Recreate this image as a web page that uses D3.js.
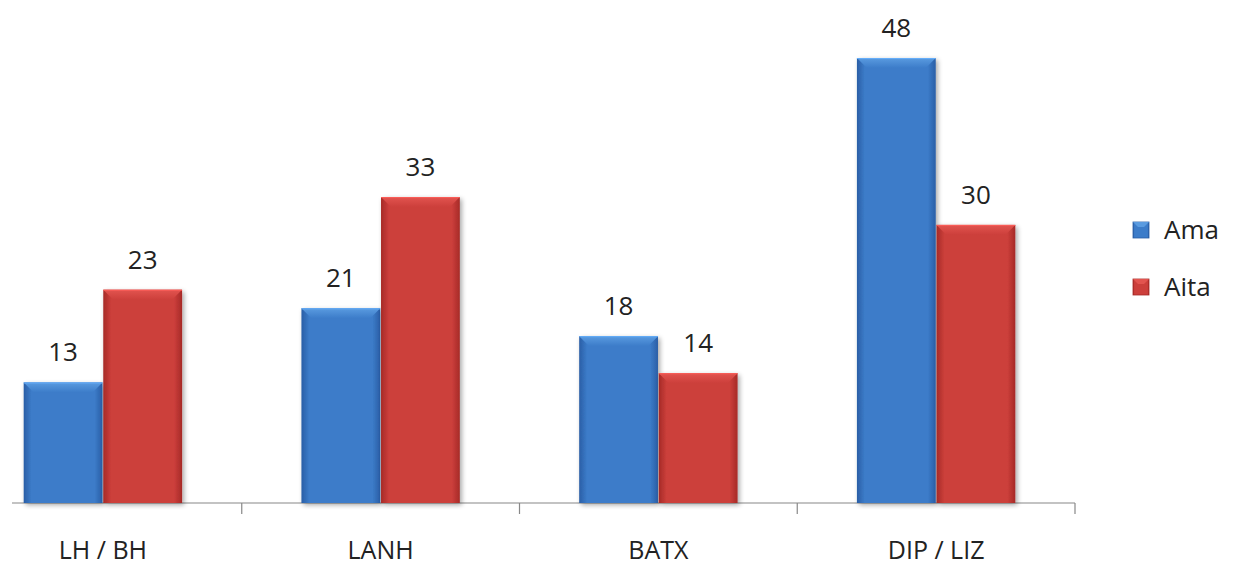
<!DOCTYPE html>
<html><head><meta charset="utf-8">
<script src="https://cdn.jsdelivr.net/npm/d3@7"></script>
<style>body{margin:0;background:#fff}svg{display:block}</style>
</head><body>
<script>
const categories = ["LH / BH", "LANH", "BATX", "DIP / LIZ"];
const seriesNames = ["Ama", "Aita"];
const amaValues = [13, 21, 18, 48];
const aitaValues = [23, 33, 14, 30];
const seriesColors = [["#2a5e a6".replace(" ", ""), "#5a9be0", "#3c7cc9"], ["#a62a27", "#e2544f", "#cc3f3b"]];

const W = 1234, H = 567;
const svg = d3.select("body").append("svg").attr("width", W).attr("height", H);
const font = "'Open Sans', 'DejaVu Sans', sans-serif";

const x0 = d3.scaleBand().domain(categories).range([-36, 1075]);
const x1 = d3.scaleBand().domain(seriesNames).range([0, x0.bandwidth()]).paddingOuter(0.75).paddingInner(0.01);
const y = d3.scaleLinear().domain([0, 48]).range([503, 58]);

const defs = svg.append("defs");
seriesColors.forEach((c, i) => {
  const g = defs.append("linearGradient").attr("id", "g" + i).attr("x1", 0).attr("x2", 1).attr("y1", 0).attr("y2", 0);
  g.append("stop").attr("offset", 0).attr("stop-color", c[0]);
  g.append("stop").attr("offset", 0.1).attr("stop-color", c[2]);
  g.append("stop").attr("offset", 0.9).attr("stop-color", c[2]);
  g.append("stop").attr("offset", 1).attr("stop-color", c[0]);
  const t = defs.append("linearGradient").attr("id", "t" + i).attr("x1", 0).attr("x2", 0).attr("y1", 0).attr("y2", 1);
  t.append("stop").attr("offset", 0).attr("stop-color", c[1]);
  t.append("stop").attr("offset", 1).attr("stop-color", c[2]);
});
const f = defs.append("filter").attr("id", "sh").attr("x", -0.2).attr("y", -0.2).attr("width", 1.4).attr("height", 1.4);
f.append("feGaussianBlur").attr("in", "SourceAlpha").attr("stdDeviation", 2.5);
f.append("feOffset").attr("dx", 2).attr("dy", 2).attr("result", "b");
f.append("feComponentTransfer").append("feFuncA").attr("type", "linear").attr("slope", 0.35);
const m = f.append("feMerge"); m.append("feMergeNode"); m.append("feMergeNode").attr("in", "SourceGraphic");

const data = categories.map((c, i) => ({cat: c, vals: [amaValues[i], aitaValues[i]]}));

// axis
const axisG = svg.append("g").attr("transform", "translate(0,503)");
axisG.append("line").attr("x1", 12).attr("x2", 1075).attr("stroke", "#888").attr("stroke-width", 1.2);
const tickX = categories.map(c => x0(c) + x0.bandwidth());
axisG.selectAll("line.tick").data(tickX).enter().append("line").attr("class", "tick")
  .attr("x1", d => d).attr("x2", d => d).attr("y1", 0).attr("y2", 11).attr("stroke", "#888").attr("stroke-width", 1.2);
axisG.selectAll("text").data(categories).enter().append("text")
  .attr("x", d => x0(d) + x0.bandwidth() / 2).attr("y", 56)
  .attr("text-anchor", "middle").attr("font-family", font).attr("font-size", 25).attr("fill", "#222").text(d => d);

const groups = svg.selectAll("g.grp").data(data).enter().append("g").attr("class", "grp")
  .attr("transform", d => `translate(${x0(d.cat)},0)`);

const bars = groups.selectAll("g.bar").data(d => d.vals.map((v, i) => ({v, i}))).enter().append("g").attr("class", "bar");
bars.each(function(d) {
  const g = d3.select(this);
  const bx = x1(seriesNames[d.i]), bw = x1.bandwidth();
  const top = y(d.v), bot = y(0);
  const c = seriesColors[d.i];
  g.append("rect").attr("x", bx).attr("y", top).attr("width", bw).attr("height", bot - top)
    .attr("fill", `url(#g${d.i})`).attr("filter", "url(#sh)");
  const b = 10;
  g.append("path").attr("d", `M${bx},${top}L${bx + bw},${top}L${bx + bw - b},${top + b}L${bx + b},${top + b}Z`)
    .attr("fill", `url(#t${d.i})`);
  g.append("line").attr("x1", bx).attr("x2", bx + bw).attr("y1", top + 0.5).attr("y2", top + 0.5)
    .attr("stroke", d3.color(c[1]).brighter(0.3)).attr("stroke-width", 1);
  g.append("text").attr("x", bx + bw / 2).attr("y", top - 21).attr("text-anchor", "middle")
    .attr("font-family", font).attr("font-size", 26).attr("fill", "#222").text(d.v);
});

// legend
const leg = svg.append("g");
seriesNames.forEach((s, i) => {
  const ly = 230 + i * 57;
  leg.append("rect").attr("x", 1133).attr("y", ly - 8).attr("width", 16).attr("height", 16)
    .attr("fill", `url(#g${i})`).attr("stroke", seriesColors[i][0]).attr("stroke-width", 0.8);
  leg.append("path").attr("d", `M1133,${ly - 8}L1149,${ly - 8}L1144,${ly - 3}L1138,${ly - 3}Z`).attr("fill", seriesColors[i][1]);
  leg.append("text").attr("x", 1164).attr("y", ly + 9).attr("font-family", font).attr("font-size", 26)
    .attr("fill", "#222").text(s);
});
</script>
</body></html>
